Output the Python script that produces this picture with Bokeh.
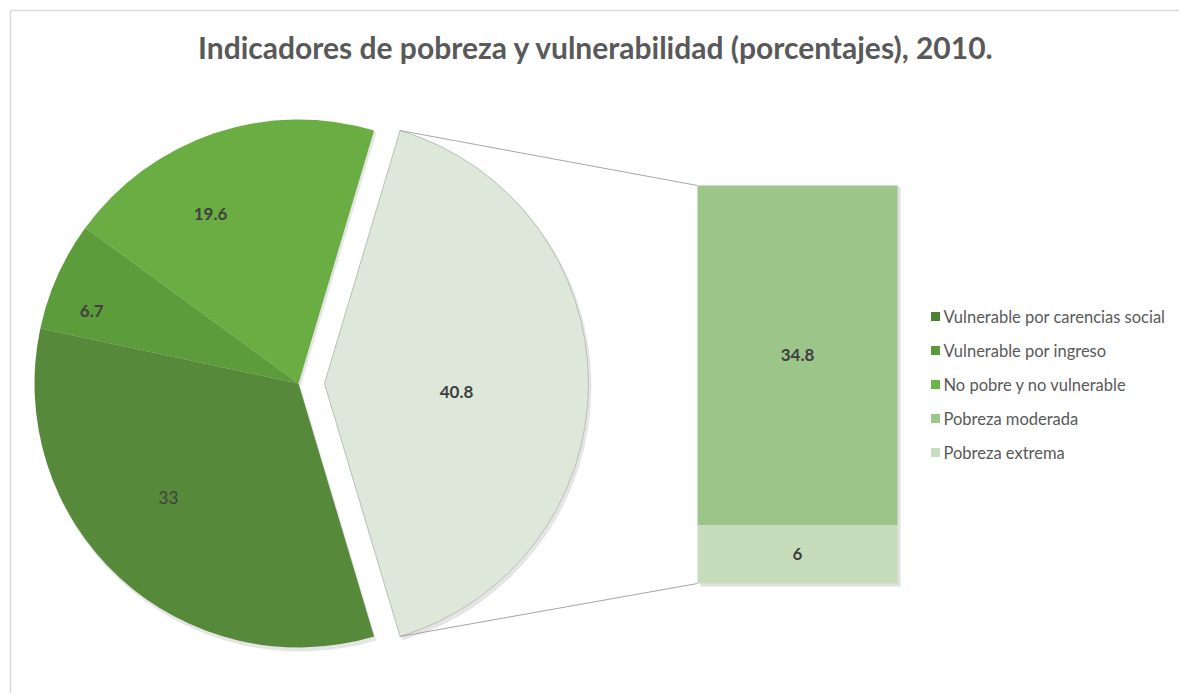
import math
from bokeh.plotting import figure
from bokeh.models import Range1d
from bokeh.core.properties import value
from bokeh.embed import file_html
from bokeh.resources import INLINE

# ---------------- data ----------------
title = "Indicadores de pobreza y vulnerabilidad (porcentajes), 2010."
pie_labels = ["Vulnerable por carencias social", "Vulnerable por ingreso", "No pobre y no vulnerable"]
pie_values = [33, 6.7, 19.6]
bar_labels = ["Pobreza moderada", "Pobreza extrema"]
bar_values = [34.8, 6]
other_value = 40.8  # combined "Pobreza" slice shown in the pie

# ---------------- style ----------------
pie_colors = ["#56893a", "#5d9c3a", "#6aae43"]
other_color = "#dee8da"
bar_colors = ["#9cc58a", "#c6dcbb"]
legend_colors = ["#4f8030", "#5a9a38", "#6ab544", "#9cc78a", "#c8dcc0"]
text_color = "#404040"
FONT = "Lato"

W, H = 1179, 693
cx, cy, R = 298, 310, 264
explode = 26
bar_left, bar_right = 697, 897
bar_bottom_px, bar_top_px = 110, 508

p = figure(width=W, height=H, output_backend="svg", toolbar_location=None,
           x_range=Range1d(0, W), y_range=Range1d(0, H), min_border=0)
p.axis.visible = False
p.grid.visible = False
p.outline_line_color = None
p.background_fill_color = "white"
p.border_fill_color = "white"

# bar scale through an extra y range
total_bar = sum(bar_values)
unit = (bar_top_px - bar_bottom_px) / total_bar
p.extra_y_ranges = {"bar": Range1d(-bar_bottom_px / unit, (H - bar_bottom_px) / unit)}

# chart border (left and top)
p.line([10, 10], [0, 683], line_color="#d9d9d9", line_width=1.5)
p.line([10, W], [683, 683], line_color="#d9d9d9", line_width=1.5)

# ---------------- pie ----------------
total = sum(pie_values) + other_value
half = other_value / total * math.pi
order = list(range(len(pie_values)))[::-1]  # 19.6, 6.7, 33 counter-clockwise from top edge
starts, ends, cols, mids = [], [], [], {}
a = half
for i in order:
    span = pie_values[i] / total * 2 * math.pi
    starts.append(a); ends.append(a + span); cols.append(pie_colors[i])
    mids[i] = a + span / 2
    a += span

# shadows
p.wedge(x=cx + 2, y=cy - 3, radius=R + 1, start_angle=starts, end_angle=ends,
        fill_color="#000000", fill_alpha=0.10, line_color=None)
p.wedge(x=cx + explode + 2, y=cy - 3, radius=R + 1, start_angle=-half, end_angle=half,
        fill_color="#000000", fill_alpha=0.10, line_color=None)

p.wedge(x=cx, y=cy, radius=R, start_angle=starts, end_angle=ends,
        fill_color=cols, line_color=None)
p.wedge(x=cx + explode, y=cy, radius=R, start_angle=-half, end_angle=half,
        fill_color=other_color, line_color="#b8c0b6", line_width=1)

# pie labels (radius fraction and angle shift are style)
label_frac = {0: 0.655, 1: 0.83, 2: 0.725}
label_shift = {0: -0.106, 1: 0.084, 2: 0.153}
weights = {0: "normal", 1: "bold", 2: "bold"}
for i, v in enumerate(pie_values):
    m = mids[i] + label_shift[i]
    p.text(x=[cx + label_frac[i] * R * math.cos(m)], y=[cy + label_frac[i] * R * math.sin(m)],
           text=[f"{v:g}"], text_align="center", text_baseline="middle",
           text_font=value(FONT), text_font_size="17px", text_font_style=weights[i],
           text_color=text_color)
p.text(x=[cx + explode + 0.5 * R], y=[cy - 8], text=[f"{other_value:g}"],
       text_align="center", text_baseline="middle", text_font=value(FONT),
       text_font_size="17px", text_font_style="bold", text_color=text_color)

# ---------------- bar ----------------
bottoms = [bar_values[1], 0]
tops = [total_bar, bar_values[1]]
p.quad(left=bar_left + 3, right=bar_right + 3, bottom=-3 / unit, top=total_bar - 1 / unit,
       y_range_name="bar", fill_color="#000000", fill_alpha=0.12, line_color=None)
p.quad(left=bar_left, right=bar_right, bottom=bottoms, top=tops, y_range_name="bar",
       fill_color=bar_colors, line_color=None)
for lab_v, b, t in zip(bar_values, bottoms, tops):
    p.text(x=[(bar_left + bar_right) / 2], y=[(b + t) / 2], text=[f"{lab_v:g}"],
           y_range_name="bar", text_align="center", text_baseline="middle",
           text_font=value(FONT), text_font_size="17px", text_font_style="bold",
           text_color=text_color)

# connector lines
top_corner = (cx + explode + R * math.cos(half), cy + R * math.sin(half))
bot_corner = (cx + explode + R * math.cos(half), cy - R * math.sin(half))
p.line([top_corner[0], bar_left], [top_corner[1], bar_top_px], line_color="#a6a6a6", line_width=1)
p.line([bot_corner[0], bar_left], [bot_corner[1], bar_bottom_px], line_color="#a6a6a6", line_width=1)

# ---------------- legend ----------------
leg_labels = pie_labels + bar_labels
leg_y0, leg_dy = 377, 34
for k, (lab, c) in enumerate(zip(leg_labels, legend_colors)):
    yy = leg_y0 - k * leg_dy
    p.rect(x=[935], y=[yy], width=9, height=9, fill_color=c, line_color=None)
    p.text(x=[943], y=[yy], text=[lab], text_align="left", text_baseline="middle",
           text_font=value(FONT), text_font_size="16.5px", text_color="#595959")

# ---------------- title ----------------
p.text(x=[596], y=[647], text=[title], text_align="center", text_baseline="middle",
       text_font=value(FONT), text_font_size="30px", text_font_style="bold",
       text_color="#595959")

open("out.html", "w").write(file_html(p, INLINE))
